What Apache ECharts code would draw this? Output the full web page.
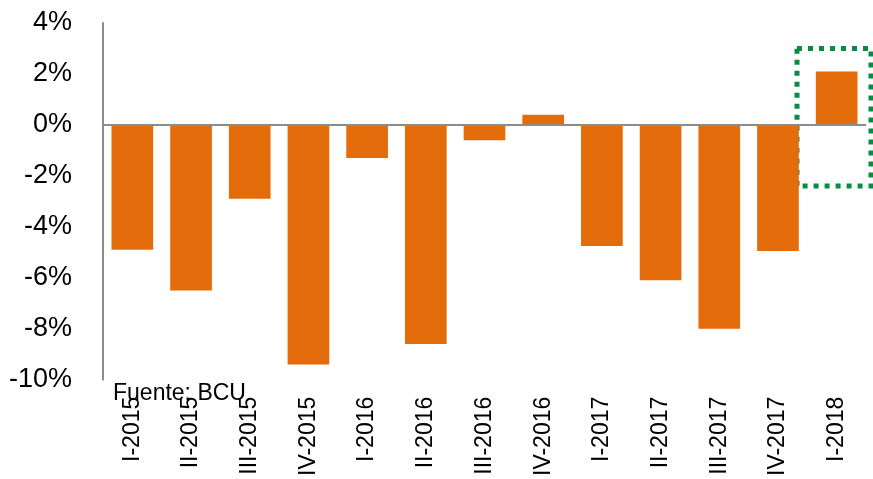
<!DOCTYPE html>
<html><head><meta charset="utf-8">
<script src="https://cdn.jsdelivr.net/npm/echarts@6/dist/echarts.min.js"></script>
<style>html,body{margin:0;padding:0;background:#fff}#c{width:873px;height:479px}</style>
</head><body><div id="c"></div>
<script>
const categories = ['I-2015','II-2015','III-2015','IV-2015','I-2016','II-2016','III-2016','IV-2016','I-2017','II-2017','III-2017','IV-2017','I-2018'];
const values = [-4.9, -6.5, -2.9, -9.4, -1.3, -8.6, -0.6, 0.4, -4.75, -6.1, -8.0, -4.95, 2.1];
const yTicks = [-10, -8, -6, -4, -2, 0, 2, 4];
const sourceText = 'Fuente: BCU';
const highlightBox = {from: 3, to: -2.4};

const chart = echarts.init(document.getElementById('c'), null, {renderer:'canvas'});
const font = 'Liberation Sans';
chart.setOption({
  animation:false,
  grid:{left:103,right:7,top:23,bottom:97,containLabel:false},
  xAxis:{type:'category',data:categories,
    axisLine:{show:false,onZero:false},axisTick:{show:false},
    axisLabel:{rotate:90,margin:17,fontSize:23,color:'#000',fontFamily:font,interval:0}},
  yAxis:{type:'value',min:yTicks[0],max:yTicks[yTicks.length-1],interval:2,
    axisLine:{show:true,lineStyle:{color:'#8c8c8c',width:2}},axisTick:{show:false},splitLine:{show:false},
    axisLabel:{formatter:v=>v+'%',fontSize:27,color:'#000',fontFamily:font,margin:31}},
  series:[{type:'bar',data:values,barCategoryGap:'29%',itemStyle:{color:'#E46C0A'},
    markLine:{silent:true,symbol:'none',label:{show:false},lineStyle:{color:'#8c8c8c',width:2,type:'solid'},
      data:[{yAxis:0}]}}]
});
const yTop = chart.convertToPixel({yAxisIndex:0}, highlightBox.from);
const yBot = chart.convertToPixel({yAxisIndex:0}, highlightBox.to);
chart.setOption({graphic:[
  {type:'rect',shape:{x:797,y:yTop,width:74,height:yBot-yTop},
   style:{fill:'none',stroke:'#078C43',lineWidth:5,lineDash:[5,6]}},
  {type:'text',left:113,top:382,style:{text:sourceText,fontSize:23,fontFamily:font,fill:'#000'}}
]});
</script></body></html>
